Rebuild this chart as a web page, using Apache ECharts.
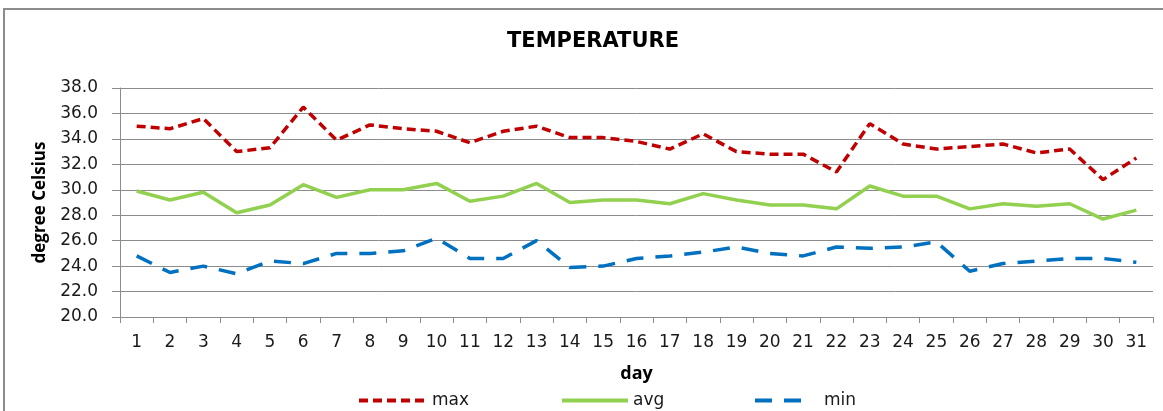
<!DOCTYPE html>
<html>
<head>
<meta charset="utf-8">
<script src="https://cdn.jsdelivr.net/npm/echarts@6/dist/echarts.min.js"></script>
<style>
html,body{margin:0;padding:0;background:#fff;}
#chart{width:1163px;height:411px;}
</style>
</head>
<body>
<div id="chart"></div>
<script>
const days = ['1','2','3','4','5','6','7','8','9','10','11','12','13','14','15','16','17','18','19','20','21','22','23','24','25','26','27','28','29','30','31'];
const maxTemp = [35.0,34.8,35.6,33.0,33.3,36.5,33.9,35.1,34.8,34.6,33.7,34.6,35.0,34.1,34.1,33.8,33.2,34.4,33.0,32.8,32.8,31.4,35.2,33.6,33.2,33.4,33.6,32.9,33.2,30.8,32.5];
const avgTemp = [29.9,29.2,29.8,28.2,28.8,30.4,29.4,30.0,30.0,30.5,29.1,29.5,30.5,29.0,29.2,29.2,28.9,29.7,29.2,28.8,28.8,28.5,30.3,29.5,29.5,28.5,28.9,28.7,28.9,27.7,28.4];
const minTemp = [24.8,23.5,24.0,23.4,24.4,24.2,25.0,25.0,25.2,26.2,24.6,24.6,26.0,23.9,24.0,24.6,24.8,25.1,25.5,25.0,24.8,25.5,25.4,25.5,25.9,23.6,24.2,24.4,24.6,24.6,24.3];
const seriesNames = ['max','avg','min'];

const chart = echarts.init(document.getElementById('chart'), null, {renderer:'canvas'});
const labelFont = 'DejaVu Sans';
const boldFont = "'DejaVu Sans', sans-serif";
const nameFont = "'Open Sans', 'DejaVu Sans', sans-serif";
function legendAt(name, left, itemWidth, gap){
  return {
    data:[name], left:left, top:392, padding:0, itemWidth:itemWidth, itemHeight:14,
    itemGap:8, textStyle:{fontFamily:labelFont, fontSize:17, color:'#1a1a1a', padding:[0,0,0,gap]},
    itemStyle:{opacity:0, borderWidth:0},
    lineStyle:{width:4},
    selectedMode:false
  };
}
chart.setOption({
  animation:false,
  backgroundColor:'#fff',
  title:{
    text:'TEMPERATURE', left:588, textAlign:'center', top:26,
    textStyle:{fontFamily:boldFont, fontWeight:'bold', fontSize:21, color:'#000'}
  },
  graphic:[{
    type:'rect', shape:{x:4, y:9, width:1300, height:600},
    style:{fill:'none', stroke:'#8c8c8c', lineWidth:2}, silent:true, z:-1
  }],
  legend:[legendAt('max',357,66,2), legendAt('avg',560,66,0), legendAt('min',753,52,12)],
  grid:{left:120, right:10, top:88, bottom:94},
  xAxis:{
    type:'category', data:days, boundaryGap:true,
    name:'day', nameLocation:'middle', nameGap:48,
    nameTextStyle:{fontFamily:nameFont, fontWeight:'bold', fontSize:18, color:'#000'},
    axisLine:{lineStyle:{color:'#8c8c8c', width:1}},
    axisTick:{show:true, length:6, lineStyle:{color:'#8c8c8c'}},
    axisLabel:{fontFamily:labelFont, fontSize:17, color:'#1a1a1a', margin:17, interval:0}
  },
  yAxis:{
    type:'value', min:20, max:38, interval:2,
    name:'degree Celsius', nameLocation:'middle', nameGap:71,
    nameTextStyle:{fontFamily:nameFont, fontWeight:'bold', fontSize:17, color:'#000'},
    axisLine:{show:true, lineStyle:{color:'#8c8c8c'}},
    axisTick:{show:true, length:8, lineStyle:{color:'#8c8c8c'}},
    splitLine:{lineStyle:{color:'#8c8c8c', width:1}},
    axisLabel:{fontFamily:labelFont, fontSize:17, color:'#1a1a1a', margin:22,
      formatter:v=>v.toFixed(1)}
  },
  series:[
    {name:seriesNames[0], type:'line', data:maxTemp, symbol:'none',
      lineStyle:{color:'#C00000', width:3.5, type:[9,5]}, itemStyle:{color:'#C00000'}},
    {name:seriesNames[1], type:'line', data:avgTemp, symbol:'none',
      lineStyle:{color:'#92D050', width:3.5}, itemStyle:{color:'#92D050'}},
    {name:seriesNames[2], type:'line', data:minTemp, symbol:'none',
      lineStyle:{color:'#0070C0', width:3.5, type:[17,12]}, itemStyle:{color:'#0070C0'}}
  ]
});
</script>
</body>
</html>
